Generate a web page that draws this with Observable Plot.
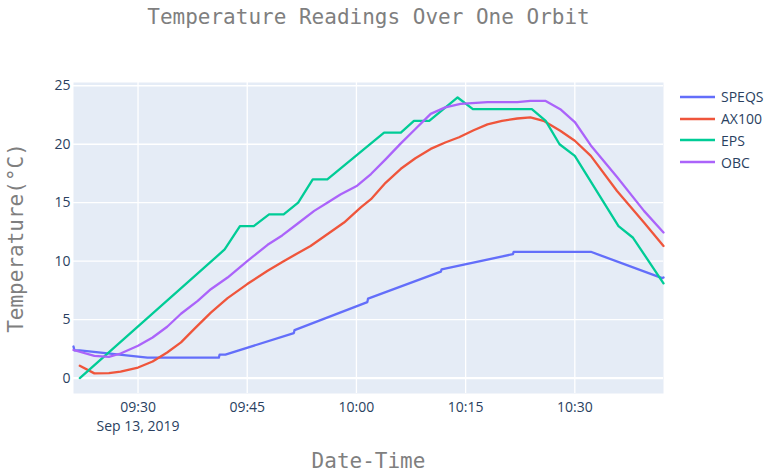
<!DOCTYPE html>
<html>
<head>
<meta charset="utf-8">
<script src="https://cdn.jsdelivr.net/npm/d3@7"></script>
<script src="https://cdn.jsdelivr.net/npm/@observablehq/plot@0.6"></script>
<style>
  body { margin: 0; background: white; }
  #wrap { position: relative; width: 767px; height: 473px; overflow: hidden; }
  #legend { position: absolute; left: 680px; top: 86px; font-family: 'Open Sans', sans-serif; font-size: 14px; color: #2a3f5f; }
  .item { display: flex; align-items: center; height: 21.8px; }
  .item svg { margin-right: 6px; }
</style>
</head>
<body>
<div id="wrap"><div id="legend"></div></div>
<script>
const DAY = "2019-09-13";
const seriesNames = ["SPEQS", "AX100", "EPS", "OBC"];
const seriesColors = ["#636efa", "#EF553B", "#00cc96", "#ab63fa"];

const SPEQS = [
  ["09:21:08", 2.70], ["09:21:15", 2.38], ["09:22:00", 2.36], ["09:31:18", 1.75],
  ["09:41:06", 1.75], ["09:41:12", 2.00], ["09:42:00", 2.00], ["09:51:24", 3.85],
  ["09:51:30", 4.10], ["10:01:30", 6.50], ["10:01:36", 6.80], ["10:11:36", 9.10],
  ["10:11:42", 9.30], ["10:21:30", 10.60], ["10:21:36", 10.80], ["10:32:12", 10.80],
  ["10:42:00", 8.55], ["10:42:11", 8.60]
];
const AX100 = [
  ["09:22:00", 1.05], ["09:24:00", 0.40], ["09:26:00", 0.42], ["09:27:36", 0.55],
  ["09:30:00", 0.90], ["09:32:00", 1.42], ["09:34:00", 2.19], ["09:35:54", 3.05],
  ["09:37:42", 4.19], ["09:40:00", 5.60], ["09:42:18", 6.84], ["09:45:00", 8.04],
  ["09:47:48", 9.18], ["09:50:00", 10.00], ["09:53:42", 11.30], ["09:56:00", 12.30],
  ["09:58:18", 13.30], ["10:00:36", 14.60], ["10:02:00", 15.30], ["10:04:00", 16.70],
  ["10:06:06", 17.90], ["10:08:06", 18.80], ["10:10:12", 19.60], ["10:12:12", 20.15],
  ["10:14:06", 20.60], ["10:16:06", 21.20], ["10:18:00", 21.70], ["10:20:00", 22.00],
  ["10:22:06", 22.20], ["10:23:54", 22.30], ["10:25:42", 22.00], ["10:28:00", 21.15],
  ["10:30:00", 20.30], ["10:32:12", 19.00], ["10:35:48", 16.00], ["10:39:30", 13.30],
  ["10:42:11", 11.30]
];
const EPS = [
  ["09:22:00", 0], ["09:41:54", 11], ["09:44:00", 13], ["09:45:54", 13],
  ["09:48:00", 14], ["09:50:00", 14], ["09:52:00", 15], ["09:54:00", 17],
  ["09:56:00", 17], ["10:03:48", 21], ["10:06:06", 21], ["10:07:54", 22],
  ["10:10:00", 22], ["10:13:54", 24], ["10:16:00", 23], ["10:24:06", 23],
  ["10:26:00", 22], ["10:27:54", 20], ["10:30:00", 19], ["10:36:00", 13],
  ["10:38:00", 12], ["10:42:11", 8.1]
];
const OBC = [
  ["09:21:08", 2.40], ["09:24:00", 1.90], ["09:26:00", 1.82], ["09:27:36", 2.10],
  ["09:30:00", 2.76], ["09:32:00", 3.47], ["09:34:00", 4.39], ["09:35:54", 5.50],
  ["09:38:12", 6.60], ["09:40:00", 7.60], ["09:42:18", 8.60], ["09:45:00", 10.00],
  ["09:47:48", 11.40], ["09:49:48", 12.20], ["09:51:54", 13.20], ["09:54:12", 14.30],
  ["09:56:00", 15.00], ["09:57:48", 15.70], ["10:00:06", 16.45], ["10:02:00", 17.45],
  ["10:04:00", 18.70], ["10:06:06", 20.07], ["10:08:06", 21.30], ["10:10:12", 22.60],
  ["10:12:12", 23.15], ["10:14:18", 23.45], ["10:18:00", 23.60], ["10:22:06", 23.60],
  ["10:23:54", 23.70], ["10:26:00", 23.70], ["10:28:00", 23.00], ["10:30:00", 21.90],
  ["10:32:12", 19.90], ["10:35:48", 17.20], ["10:39:30", 14.30], ["10:42:11", 12.45]
];
const xTickLabels = ["09:30", "09:45", "10:00", "10:15", "10:30"];
const yTicks = [0, 5, 10, 15, 20, 25];
const yDomain = [-1.32, 25.28];

const toDate = (t) => new Date(`${DAY}T${t}Z`);
const seriesData = [SPEQS, AX100, EPS, OBC];
const data = seriesData.flatMap((arr, i) =>
  arr.map(([t, v]) => ({ series: seriesNames[i], time: toDate(t), value: v }))
);
const xTicks = xTickLabels.map(toDate);
const xDomain = d3.extent(data, (d) => d.time);
const fmt = d3.utcFormat("%H:%M");
const tickFormat = (d, i) => (i === 0 ? fmt(d) + "\n" + d3.utcFormat("%b %-d, %Y")(d) : fmt(d));
const mono = "'DejaVu Sans Mono', monospace";

const chart = Plot.plot({
  width: 767,
  height: 473,
  marginLeft: 73,
  marginRight: 104,
  marginTop: 82,
  marginBottom: 80,
  style: { background: "transparent", fontFamily: "'Open Sans', sans-serif", fontSize: "14px", color: "#2a3f5f", overflow: "visible" },
  x: { type: "utc", domain: xDomain },
  y: { domain: yDomain },
  color: { domain: seriesNames, range: seriesColors },
  marks: [
    Plot.frame({ fill: "#e5ecf6", stroke: null }),
    Plot.gridX(xTicks, { stroke: "white", strokeOpacity: 1, strokeWidth: 1.3 }),
    Plot.gridY(yTicks, { stroke: "white", strokeOpacity: 1, strokeWidth: (d) => (d === 0 ? 2.3 : 1.3) }),
    Plot.axisX(xTicks, { tickSize: 0, tickPadding: 6, tickFormat, lineHeight: 1.3, label: null, fill: "#2a3f5f" }),
    Plot.axisY(yTicks, { tickSize: 0, tickPadding: 3, label: null, fill: "#2a3f5f" }),
    Plot.line(data, { x: "time", y: "value", stroke: "series", strokeWidth: 2.3, strokeLinejoin: "round", strokeLinecap: "round" }),
    Plot.text(["Temperature Readings Over One Orbit"], { frameAnchor: "top", lineAnchor: "bottom", dy: -59, fontFamily: mono, fontSize: 21, fill: "#7f7f7f" }),
    Plot.text(["Date-Time"], { frameAnchor: "bottom", lineAnchor: "bottom", dy: 74, fontFamily: mono, fontSize: 21, fill: "#7f7f7f" }),
    Plot.text(["Temperature(°C)"], { frameAnchor: "left", textAnchor: "middle", lineAnchor: "bottom", rotate: -90, dx: -51, fontFamily: mono, fontSize: 21, fill: "#7f7f7f" })
  ]
});
document.getElementById("wrap").prepend(chart);

const legend = document.getElementById("legend");
seriesNames.forEach((name, i) => {
  const item = document.createElement("div");
  item.className = "item";
  item.innerHTML = `<svg width="35" height="6"><line x1="0" y1="3" x2="35" y2="3" stroke="${seriesColors[i]}" stroke-width="2.3"/></svg><span>${name}</span>`;
  legend.appendChild(item);
});
</script>
</body>
</html>
